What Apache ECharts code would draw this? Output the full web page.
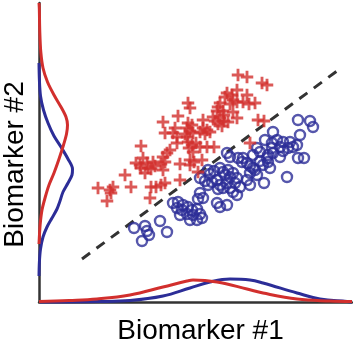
<!DOCTYPE html>
<html><head><meta charset="utf-8">
<script src="https://cdn.jsdelivr.net/npm/echarts@6/dist/echarts.min.js"></script>
<style>html,body{margin:0;padding:0;background:#fff}#c{width:353px;height:349px}</style>
</head><body><div id="c"></div>
<script>
// Scatter data: [biomarker1, biomarker2] (arbitrary units)
const groupRed = [
[199,227],[208,225],[223,219],[228,217],[198,212],[188,209],[193,207],[186,205],[208,207],[194,202],
[198,200],[191,198],[204,200],[210,198],[216,199],[181,199],[179,195],[178,191],[184,191],[185,187],
[194,190],[198,184],[174,185],[176,181],[181,184],[185,181],[189,180],[179,178],[183,176],[164,182],
[164,174],[168,172],[171,170],[166,168],[219,182],[225,181],
[149,199],[151,194],[139,186],[124,180],[126,169],[136,174],[134,169],[138,165],[149,179],[153,177],
[148,174],[151,171],[146,168],[154,169],[148,165],[161,170],[138,159],[149,160],[153,157],[157,159],
[161,155],[168,155],[175,155],[150,154],[154,150],[131,152],[128,149],[124,145],[126,140],[122,138],
[114,140],[116,136],[141,138],[151,142],[155,140],[163,142],[151,137],[211,159],[159,130],[141,122],
[102,156],[104,144],[97,139],[101,137],[102,134],[108,139],[109,134],[106,129],[112,133],[124,132],
[86,127],[92,115],[59,114],[71,112],[74,115],[72,109],[68,101],[112,115],[117,115],[122,117],
[126,119],[111,104]
];
const groupBlue = [
[259,182],[271,181],[274,175],[234,170],[261,167],[226,162],[233,159],[238,162],[244,160],[258,157],
[254,155],[251,160],[241,155],[244,151],[249,154],[218,154],[221,150],[214,147],[233,154],[234,149],
[229,147],[259,144],[265,144],[248,125],[241,145],[204,144],[208,139],[211,136],[216,132],[211,129],
[218,127],[214,134],[224,137],[229,140],[231,134],[225,119],[208,122],[188,149],[191,145],[199,144],
[203,140],[181,134],[184,130],[186,127],[189,132],[191,125],[194,129],[198,124],[169,132],[171,128],
[175,131],[161,124],[166,121],[169,117],[173,120],[178,122],[181,117],[184,114],[179,113],[188,119],
[191,114],[196,119],[201,115],[194,110],[198,107],[211,117],[161,109],[164,104],[159,103],[178,99],
[181,95],[188,97],[134,99],[139,100],[144,97],[149,95],[138,94],[143,92],[153,92],[158,93],
[161,88],[154,87],[148,88],[158,82],[163,84],[141,87],[151,82],[121,81],[128,70],[95,74],
[106,76],[108,71],[110,67],[103,61],[221,141],[228,144]
];
// Marginal densities. Left: [density, biomarker2]; bottom: [biomarker1, density]
const densLeftRed = [[0,299],[0.3,294],[0.8,270],[1.8,250],[4,234],[8.5,220],[15,207],[22,195],[27,185],[28.5,177],[27.5,168],[24.5,157],[20,143],[15,129],[10,117],[6,104],[3,92],[1.2,78],[0.3,64],[0,58]];
const densLeftBlue = [[0,239],[0.4,222],[1.5,206],[4.5,192],[9,179],[15,166],[22,155],[29,143],[33.5,133],[33,127],[29,119],[24,110],[21,101],[18,93],[13,84],[8,75],[4,65],[1.5,53],[0.4,40],[0,26]];
const densBottomRed = [[0,0.5],[30,1.5],[58,3],[91,7],[124,15],[148,21],[154,22],[178,20],[208,13],[224,9],[258,3],[291,1],[313,0.5]];
const densBottomBlue = [[1,0],[61,0.5],[91,1.5],[124,6],[151,14],[171,20],[191,23],[211,22],[224,19],[258,9],[281,3],[308,0.5],[313,0]];
// Decision boundary (dashed)
const boundary = [[43,43],[298,231]];
const xLabel = 'Biomarker #1';
const yLabel = 'Biomarker #2';

const RED = '#d22f2d', BLUE = '#2c2d97', AX = '#333';
const plus = 'path://M8.5,0H13.5V8.5H22V13.5H13.5V22H8.5V13.5H0V8.5H8.5Z';
const chart = echarts.init(document.getElementById('c'), null, {renderer:'canvas'});
const hidden = {axisLabel:{show:false}, axisTick:{show:false}, splitLine:{show:false}};
chart.setOption({
  animation:false,
  grid:{left:39, right:1, top:3, bottom:47},
  xAxis:[
    Object.assign({type:'value', min:0, max:313, position:'bottom', axisLine:{show:true, onZero:false, lineStyle:{color:AX, width:2.5}}}, hidden),
    Object.assign({type:'value', min:0, max:313, position:'top', axisLine:{show:false}}, hidden)
  ],
  yAxis:[
    Object.assign({type:'value', min:0, max:299, position:'left', axisLine:{show:true, onZero:false, lineStyle:{color:AX, width:2.5}}}, hidden),
    Object.assign({type:'value', min:0, max:299, position:'right', axisLine:{show:false}}, hidden)
  ],
  series:[
    {type:'line', xAxisIndex:0, yAxisIndex:0, data:boundary, symbol:'none', lineStyle:{color:AX, width:3, type:[10,8]}, z:1},
    {type:'scatter', data:groupBlue, symbol:'circle', symbolSize:10, itemStyle:{color:'rgba(0,0,0,0)', borderColor:BLUE, borderWidth:2.4}, z:3},
    {type:'scatter', data:groupRed, symbol:plus, symbolSize:12.5, itemStyle:{color:RED}, z:4},
    {type:'line', xAxisIndex:1, yAxisIndex:0, data:densLeftBlue, symbol:'none', smooth:0.3, lineStyle:{color:BLUE, width:3}, clip:false, z:5},
    {type:'line', xAxisIndex:1, yAxisIndex:0, data:densLeftRed, symbol:'none', smooth:0.3, lineStyle:{color:RED, width:3}, clip:false, z:6},
    {type:'line', xAxisIndex:0, yAxisIndex:1, data:densBottomBlue, symbol:'none', smooth:0.4, lineStyle:{color:BLUE, width:3}, clip:false, z:5},
    {type:'line', xAxisIndex:0, yAxisIndex:1, data:densBottomRed, symbol:'none', smooth:0.4, lineStyle:{color:RED, width:3}, clip:false, z:6}
  ],
  graphic:[
    {type:'text', x:200.5, y:331, style:{text:xLabel, font:'28px "Liberation Sans", Arial, sans-serif', fill:'#000', textAlign:'center', textVerticalAlign:'middle'}},
    {type:'text', x:15, y:164.5, rotation:Math.PI/2, style:{text:yLabel, font:'28px "Liberation Sans", Arial, sans-serif', fill:'#000', textAlign:'center', textVerticalAlign:'middle'}}
  ]
});
</script></body></html>
